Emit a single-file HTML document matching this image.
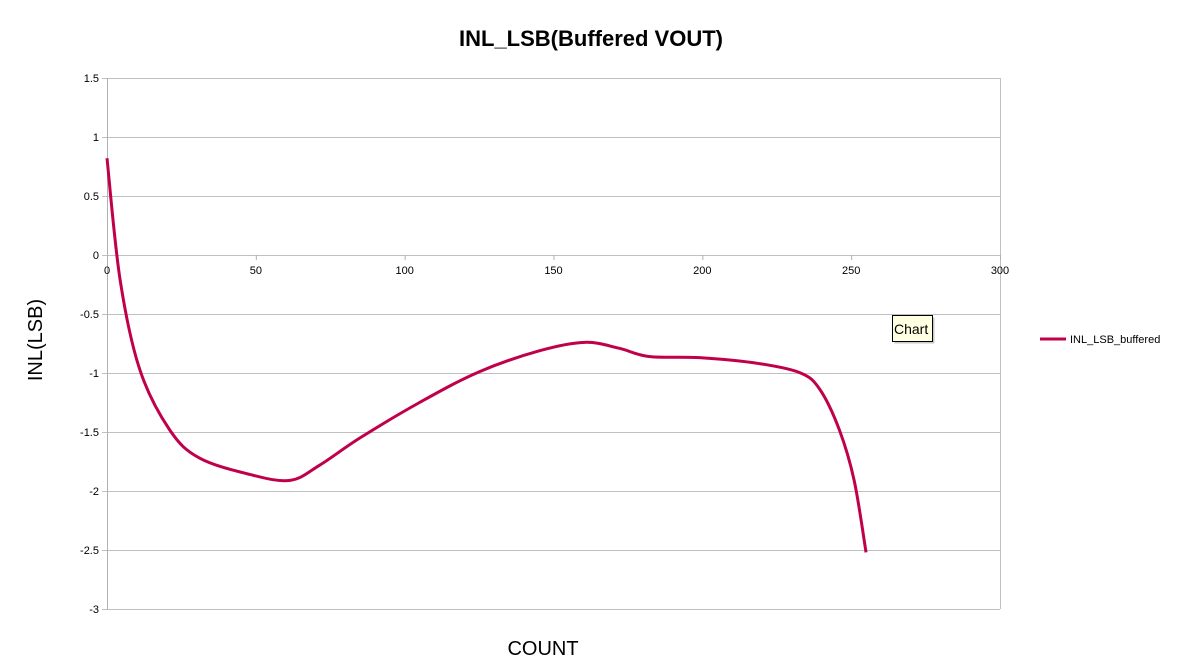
<!DOCTYPE html>
<html><head><meta charset="utf-8"><style>
body{margin:0;background:#fff;}
svg{display:block;font-family:"Liberation Sans",Arial,sans-serif;}
</style></head><body>
<svg id="chart" width="1178" height="670">
<text x="591" y="46" text-anchor="middle" font-size="22" font-weight="bold">INL_LSB(Buffered VOUT)</text>
<text x="543" y="655" text-anchor="middle" font-size="20">COUNT</text>
<text transform="translate(42,340) rotate(-90)" text-anchor="middle" font-size="20">INL(LSB)</text>
<g id="grid"></g><g id="ticks"></g><g id="series"></g>
<g>
<line x1="1040" y1="339" x2="1066" y2="339" stroke="#c0004a" stroke-width="3"/>
<text x="1070" y="343" font-size="11">INL_LSB_buffered</text>
</g>
<g>
<rect x="892.5" y="315.5" width="40" height="26" fill="#777" opacity="0.4" transform="translate(2,2)"/>
<rect x="892.5" y="315.5" width="40" height="26" fill="#ffffe1" stroke="#000"/>
<text x="894" y="334" font-size="14">Chart</text>
</g>
</svg>
<script>
const xs=[0,4.4,11,21,31,48,61.5,71.5,85,105,125,145.5,160.5,172,182,199,219,233,239.5,246,251,255];
const ys=[0.82,-0.21,-0.97,-1.48,-1.72,-1.86,-1.91,-1.78,-1.55,-1.25,-0.99,-0.81,-0.74,-0.79,-0.86,-0.87,-0.92,-1.0,-1.14,-1.48,-1.91,-2.52];
const xTicks=[0,50,100,150,200,250,300];
const yTicks=[1.5,1,0.5,0,-0.5,-1,-1.5,-2,-2.5,-3];
const NS="http://www.w3.org/2000/svg";
const X=v=>107+v*(893/300);
const Y=v=>255-v*118;
const grid=document.getElementById('grid'),ticks=document.getElementById('ticks'),ser=document.getElementById('series');
function mk(tag,a,p){const e=document.createElementNS(NS,tag);for(const k in a)e.setAttribute(k,a[k]);p.appendChild(e);return e;}
yTicks.forEach(t=>{
 const l=mk('line',{x1:102,x2:1000,y1:Y(t)+0.5,y2:Y(t)+0.5,stroke:'#c0c0c0'},grid);
 
 
 const tx=mk('text',{x:99,y:Y(t)+4,'text-anchor':'end','font-size':11},ticks);tx.textContent=t;
 
 
});
const rb=mk('line',{x1:1000.5,x2:1000.5,y1:Y(1.5),y2:Y(-3),stroke:'#c0c0c0'},grid);


const ya=mk('line',{x1:107.5,x2:107.5,y1:Y(1.5),y2:Y(-3),stroke:'#b0b0b0'},grid);


xTicks.forEach(t=>{
 mk('line',{x1:X(t)+0.5,x2:X(t)+0.5,y1:255,y2:260,stroke:'#b0b0b0'},grid);
 const tx=mk('text',{x:X(t),y:274,'text-anchor':'middle','font-size':11},ticks);tx.textContent=t;
 
 
});
const pts=xs.map((v,i)=>[X(v),Y(ys[i])]);
let d='M'+pts[0][0]+','+pts[0][1];
for(let i=0;i<pts.length-1;i++){
 const p0=pts[Math.max(i-1,0)],p1=pts[i],p2=pts[i+1],p3=pts[Math.min(i+2,pts.length-1)];
 const c1=[p1[0]+(p2[0]-p0[0])/6,p1[1]+(p2[1]-p0[1])/6],c2=[p2[0]-(p3[0]-p1[0])/6,p2[1]-(p3[1]-p1[1])/6];
 d+=`C${c1[0]},${c1[1]} ${c2[0]},${c2[1]} ${p2[0]},${p2[1]}`;
}
const path=mk('path',{d:d,fill:'none',stroke:'#c0004a','stroke-width':3},ser);


</script>
</body></html>
